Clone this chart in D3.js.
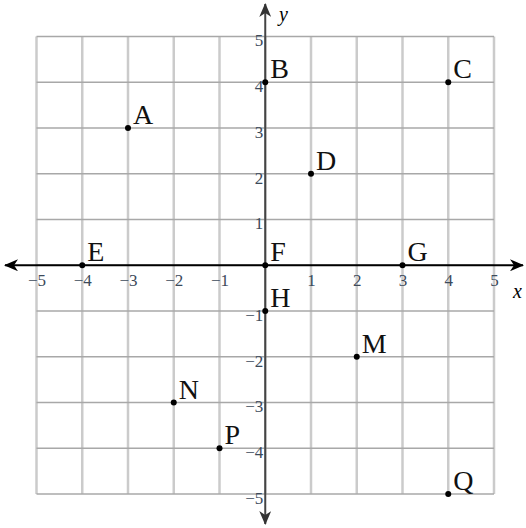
<!DOCTYPE html>
<html lang='en'>
<head>
  <meta charset='UTF-8'>
  <title>Coordinate plane</title>
  <style>
    body { margin: 0; background: #fff; }
  </style>
</head>
<body>
  <script src='https://cdn.jsdelivr.net/npm/d3@7/dist/d3.min.js'></script>
  <script>
// canvas
const width = 526;
const height = 528;
const serif = 'Liberation Serif';

// data
const pointNames = ['A', 'B', 'C', 'D', 'E', 'F', 'G', 'H', 'M', 'N', 'P', 'Q'];
const pointX = [-3, 0, 4, 1, -4, 0, 3, 0, 2, -2, -1, 4];
const pointY = [3, 4, 4, 2, 0, 0, 0, -1, -2, -3, -4, -5];
const tickValues = [-5, -4, -3, -2, -1, 1, 2, 3, 4, 5];
const gridValues = [-5, -4, -3, -2, -1, 0, 1, 2, 3, 4, 5];

const svg = d3.select('body')
              .append('svg')
              .attr('width', width)
              .attr('height', height);

const x = d3.scaleLinear().domain([-5, 5]).range([36.5, 494]);
const y = d3.scaleLinear().domain([-5, 5]).range([494, 36.5]);

// grid: vertical lines lighter and wider than the horizontal ones
svg.append('g').selectAll('line')
    .data(gridValues)
    .enter().append('line')
    .attr('x1', d => x(d)).attr('x2', d => x(d))
    .attr('y1', y(-5)).attr('y2', y(5))
    .attr('stroke', '#cbcbcb')
    .attr('stroke-width', 2.5);

svg.append('g').selectAll('line')
    .data(gridValues)
    .enter().append('line')
    .attr('x1', x(-5)).attr('x2', x(5))
    .attr('y1', d => y(d)).attr('y2', d => y(d))
    .attr('stroke', '#a8a8a8')
    .attr('stroke-width', 1.5);

// arrow heads
const defs = svg.append('defs');
function arrow(id, color) {
  defs.append('marker')
      .attr('id', id)
      .attr('viewBox', '0 0 14 12')
      .attr('refX', 13).attr('refY', 6)
      .attr('markerWidth', 14).attr('markerHeight', 12)
      .attr('markerUnits', 'userSpaceOnUse')
      .attr('orient', 'auto-start-reverse')
      .append('path')
      .attr('d', 'M0,0 L14,6 L0,12 L4,6 Z')
      .attr('fill', color);
}
arrow('arrX', '#000');
arrow('arrY', '#333');

// axes lines
svg.append('line')
    .attr('x1', 5).attr('x2', 523)
    .attr('y1', y(0)).attr('y2', y(0))
    .attr('stroke', '#000').attr('stroke-width', 2)
    .attr('marker-start', 'url(#arrX)')
    .attr('marker-end', 'url(#arrX)');

svg.append('line')
    .attr('x1', x(0)).attr('x2', x(0))
    .attr('y1', 4).attr('y2', 524)
    .attr('stroke', '#444').attr('stroke-width', 2)
    .attr('marker-start', 'url(#arrY)')
    .attr('marker-end', 'url(#arrY)');

// tick labels through d3 axes
const xAxis = svg.append('g')
    .attr('transform', 'translate(0,' + y(0) + ')')
    .call(d3.axisBottom(x).tickValues(tickValues).tickSize(0).tickPadding(9));
const yAxis = svg.append('g')
    .attr('transform', 'translate(' + x(0) + ',0)')
    .call(d3.axisLeft(y).tickValues(tickValues).tickSize(0).tickPadding(2));
[xAxis, yAxis].forEach(a => {
  a.select('.domain').remove();
  a.selectAll('text')
      .style('font-family', serif)
      .style('font-size', '17px')
      .attr('fill', '#3c4a5a');
});
yAxis.selectAll('text').attr('dy', '0.55em');

// axis names
svg.append('text')
    .attr('x', 513).attr('y', 298)
    .style('font-family', serif).style('font-size', '20px').style('font-style', 'italic')
    .text('x');
svg.append('text')
    .attr('x', 279).attr('y', 21)
    .style('font-family', serif).style('font-size', '20px').style('font-style', 'italic')
    .text('y');

// points
const pts = svg.append('g').selectAll('g')
    .data(pointNames)
    .enter().append('g')
    .attr('transform', (d, i) => 'translate(' + x(pointX[i]) + ',' + y(pointY[i]) + ')');

pts.append('circle')
    .attr('r', 3)
    .attr('fill', '#000');

pts.append('text')
    .attr('x', 5).attr('y', -4)
    .style('font-family', serif)
    .style('font-size', '28px')
    .attr('fill', '#111')
    .text(d => d);
  </script>
</body>
</html>
